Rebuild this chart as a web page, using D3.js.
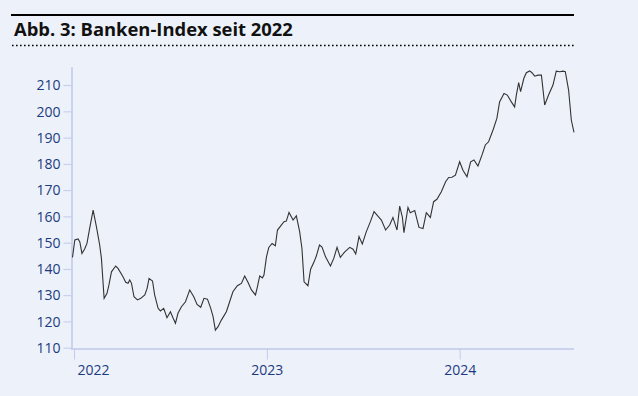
<!DOCTYPE html>
<html>
<head>
<meta charset="utf-8">
<script src="https://cdn.jsdelivr.net/npm/d3@7"></script>
<style>
  html, body { margin: 0; padding: 0; background: #edf1f9; }
  svg { display: block; }
  .title { font-family: 'Open Sans', sans-serif; font-weight: 700; font-size: 18.4px; fill: #111; }
  .axis text { font-family: 'Open Sans', sans-serif; font-size: 14px; fill: #1b3b80; }
  .axis .domain { stroke: #a7b3e2; }
  .axis .tick line { stroke: #c3cbea; }
  .line { fill: none; stroke: #333; stroke-width: 1.1; }
</style>
</head>
<body>
<svg width="638" height="396"></svg>
<script>
// index values (time as decimal year)
const years = [
  2021.992, 2022.004, 2022.021, 2022.030, 2022.041, 2022.055, 2022.067, 2022.081, 2022.099, 2022.116,
  2022.133, 2022.142, 2022.156, 2022.171, 2022.181, 2022.194, 2022.216, 2022.228, 2022.254, 2022.268,
  2022.280, 2022.289, 2022.298, 2022.311, 2022.329, 2022.346, 2022.367, 2022.379, 2022.389, 2022.407,
  2022.418, 2022.436, 2022.448, 2022.465, 2022.482, 2022.500, 2022.513, 2022.526, 2022.539, 2022.557,
  2022.578, 2022.600, 2022.621, 2022.638, 2022.657, 2022.674, 2022.692, 2022.709, 2022.721, 2022.733,
  2022.747, 2022.764, 2022.790, 2022.807, 2022.824, 2022.847, 2022.868, 2022.885, 2022.902, 2022.920,
  2022.941, 2022.951, 2022.963, 2022.977, 2022.985, 2022.998, 2023.010, 2023.027, 2023.044, 2023.055,
  2023.072, 2023.089, 2023.101, 2023.115, 2023.136, 2023.153, 2023.170, 2023.182, 2023.193, 2023.213,
  2023.227, 2023.245, 2023.257, 2023.273, 2023.286, 2023.305, 2023.330, 2023.347, 2023.364, 2023.381,
  2023.404, 2023.430, 2023.447, 2023.461, 2023.478, 2023.495, 2023.516, 2023.537, 2023.556, 2023.576,
  2023.594, 2023.616, 2023.637, 2023.654, 2023.675, 2023.689, 2023.703, 2023.711, 2023.732, 2023.744,
  2023.767, 2023.789, 2023.810, 2023.827, 2023.848, 2023.865, 2023.882, 2023.905, 2023.927, 2023.943,
  2023.960, 2023.978, 2024.000, 2024.017, 2024.038, 2024.057, 2024.074, 2024.095, 2024.116, 2024.133,
  2024.150, 2024.173, 2024.193, 2024.207, 2024.230, 2024.247, 2024.268, 2024.285, 2024.294, 2024.306,
  2024.316, 2024.333, 2024.346, 2024.363, 2024.375, 2024.389, 2024.406, 2024.424, 2024.441, 2024.461,
  2024.484, 2024.501, 2024.519, 2024.536, 2024.548, 2024.565, 2024.579, 2024.593
];
const values = [
  144.4, 151.0, 151.4, 150.3, 145.9, 147.6, 149.7, 155.4, 162.4, 156.1,
  149.1, 144.0, 128.8, 130.7, 133.9, 138.9, 141.1, 140.2, 137.0, 134.9,
  134.5, 135.8, 134.5, 129.4, 128.2, 128.8, 130.1, 132.6, 136.4, 135.4,
  130.1, 125.0, 124.0, 125.0, 121.4, 123.7, 121.4, 119.3, 123.1, 125.6,
  127.5, 132.0, 129.4, 126.5, 125.4, 128.8, 128.5, 125.0, 121.8, 116.7,
  118.0, 120.5, 123.7, 127.5, 131.3, 133.6, 134.5, 137.3, 134.9, 132.0,
  130.1, 133.2, 137.3, 136.6, 137.7, 144.6, 148.2, 149.7, 148.8, 154.8,
  156.4, 158.0, 158.2, 161.5, 158.6, 160.2, 154.2, 147.8, 135.1, 133.6,
  139.9, 142.7, 145.0, 149.1, 148.3, 144.5, 141.1, 144.0, 148.2, 144.4,
  146.5, 148.2, 147.5, 145.7, 152.3, 149.5, 154.2, 158.0, 161.8, 160.1,
  158.6, 154.8, 156.7, 159.6, 154.8, 163.9, 159.6, 153.8, 163.4, 161.4,
  162.2, 155.8, 155.4, 161.4, 159.6, 165.6, 166.5, 169.4, 173.2, 174.8,
  174.9, 175.7, 180.8, 177.6, 175.1, 180.8, 181.5, 179.2, 183.4, 187.2,
  188.4, 192.9, 197.3, 203.6, 206.8, 206.2, 203.6, 201.7, 206.2, 210.9,
  207.5, 212.6, 214.7, 215.4, 214.7, 213.4, 213.8, 213.8, 202.4, 206.2,
  210.0, 215.3, 215.1, 215.3, 215.1, 208.1, 196.7, 192.0
];
const yTicks = [110, 120, 130, 140, 150, 160, 170, 180, 190, 200, 210];
const xTicks = [2022, 2023, 2024];
const title = 'Abb. 3: Banken-Index seit 2022';

const data = years.map((t, i) => ({ t: t, v: values[i] }));

const svg = d3.select('svg');

// header: heavy rule, title, dotted rule
svg.append('line')
  .attr('x1', 11).attr('x2', 574).attr('y1', 15).attr('y2', 15)
  .attr('stroke', '#000').attr('stroke-width', 2);

svg.append('text')
  .attr('class', 'title')
  .attr('x', 14).attr('y', 36)
  .text(title);

svg.append('line')
  .attr('x1', 12).attr('x2', 574).attr('y1', 45.5).attr('y2', 45.5)
  .attr('stroke', '#000').attr('stroke-width', 1.6)
  .attr('stroke-dasharray', '1.6,2.4');

// scales
const x = d3.scaleLinear()
  .domain(d3.extent(years))
  .range([72.5, 574]);

const y = d3.scaleLinear()
  .domain([110, 217])
  .range([347.7, 66.7]);

// y axis
const yAxis = svg.append('g')
  .attr('class', 'axis axis--y')
  .attr('transform', 'translate(71.5,0)')
  .call(d3.axisLeft(y).tickValues(yTicks).tickSize(8).tickSizeOuter(0).tickPadding(3));
yAxis.selectAll('.tick text').attr('dy', '0.34em');

// x axis (year ticks point down)
const xAxis = svg.append('g')
  .attr('class', 'axis axis--x')
  .attr('transform', 'translate(0,348.5)')
  .call(d3.axisBottom(x).tickValues(xTicks).tickFormat(d3.format('d')).tickSize(11).tickSizeOuter(0).tickPadding(6));
xAxis.select('.domain').attr('d', 'M71,0.5H574');
xAxis.selectAll('.tick text')
  .filter((d, i) => i === 0)
  .attr('text-anchor', 'start')
  .attr('x', 3);

// index line
const line = d3.line()
  .x(d => x(d.t))
  .y(d => y(d.v));

svg.append('path')
  .datum(data)
  .attr('class', 'line')
  .attr('d', line);
</script>
</body>
</html>
